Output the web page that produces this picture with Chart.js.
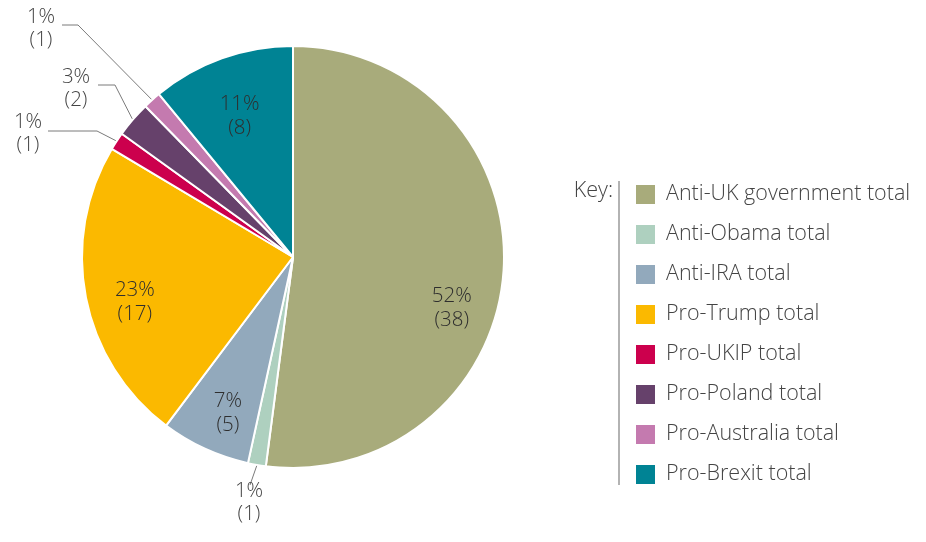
<!DOCTYPE html>
<html lang="en">
    <head>
        <meta charset="UTF-8">
        <title>Key totals</title>
        <style>
            html, body { margin: 0; padding: 0; background: #ffffff; }
            #wrap { width: 926px; height: 542px; }
        </style>
    </head>
    <body>
        <div id="wrap">
            <canvas id="pieCanvas" width="926" height="542"></canvas>
        </div>

        <script src="https://cdn.jsdelivr.net/npm/chart.js"></script>
        <script>
            // data
            const categories = [
                'Anti-UK government total',
                'Anti-Obama total',
                'Anti-IRA total',
                'Pro-Trump total',
                'Pro-UKIP total',
                'Pro-Poland total',
                'Pro-Australia total',
                'Pro-Brexit total'
            ];
            const counts = [38, 1, 5, 17, 1, 2, 1, 8];
            const percentLabels = ['52%', '1%', '7%', '23%', '1%', '3%', '1%', '11%'];
            const sliceColors = ['#a8ab7b', '#aed0bf', '#92a9bc', '#fbb900', '#cc004d', '#66416b', '#c47aaf', '#008394'];

            const FONT = '"Open Sans", "Noto Sans", sans-serif';
            const LINE_H = 24;

            // inside labels: tweak of angle (deg) and radius fraction
            const insideLabels = {
                0: { da: 14, rf: 0.79 },
                2: { da: -2, rf: 0.80 },
                3: { da: -5, rf: 0.78 },
                7: { da: -1, rf: 0.715 }
            };

            // outside labels with leader lines, offsets from pie centre
            const calloutLabels = {
                1: { elbow: null, end: [-43, 228], text: [-44, 245] },
                4: { elbow: [-196, -126], end: [-245, -126], text: [-265, -124] },
                5: { elbow: [-178, -172], end: [-195, -172], text: [-217, -169] },
                6: { elbow: [-215, -232], end: [-231, -232], text: [-252, -229] }
            };

            const sliceLabelPlugin = {
                id: 'sliceLabels',
                afterDatasetsDraw(chart) {
                    const ctx = chart.ctx;
                    const arcs = chart.getDatasetMeta(0).data;
                    ctx.save();
                    ctx.font = '300 20.5px ' + FONT;
                    ctx.textAlign = 'center';
                    ctx.textBaseline = 'middle';

                    arcs.forEach((arc, i) => {
                        const cx = arc.x, cy = arc.y, R = arc.outerRadius;
                        const mid = (arc.startAngle + arc.endAngle) / 2;
                        const line2 = '(' + counts[i] + ')';

                        if (insideLabels[i]) {
                            const a = mid + insideLabels[i].da * Math.PI / 180;
                            const r = R * insideLabels[i].rf;
                            const x = cx + r * Math.cos(a);
                            const y = cy + r * Math.sin(a);
                            ctx.fillStyle = '#2e2e2e';
                            ctx.fillText(percentLabels[i], x, y - LINE_H / 2);
                            ctx.fillText(line2, x, y + LINE_H / 2);
                        } else if (calloutLabels[i]) {
                            const c = calloutLabels[i];
                            const sx = cx + (R + 1) * Math.cos(mid);
                            const sy = cy + (R + 1) * Math.sin(mid);
                            ctx.strokeStyle = '#7a7a7a';
                            ctx.lineWidth = 1;
                            ctx.beginPath();
                            ctx.moveTo(sx, sy);
                            if (c.elbow) ctx.lineTo(cx + c.elbow[0], cy + c.elbow[1]);
                            ctx.lineTo(cx + c.end[0], cy + c.end[1]);
                            ctx.stroke();
                            ctx.fillStyle = '#444444';
                            const tx = cx + c.text[0], ty = cy + c.text[1];
                            ctx.fillText(percentLabels[i], tx, ty - LINE_H / 2 + 1);
                            ctx.fillText(line2, tx, ty + LINE_H / 2);
                        }
                    });
                    ctx.restore();
                }
            };

            const keyPlugin = {
                id: 'keyLegend',
                afterDraw(chart) {
                    const ctx = chart.ctx;
                    const left = 619, top = 194, step = 40;
                    ctx.save();
                    ctx.font = '300 21.5px ' + FONT;
                    ctx.textBaseline = 'middle';
                    ctx.fillStyle = '#444444';
                    ctx.textAlign = 'right';
                    ctx.fillText('Key:', left - 6, top - 3);

                    ctx.strokeStyle = '#9a9a9a';
                    ctx.lineWidth = 1.5;
                    ctx.beginPath();
                    ctx.moveTo(left, 181);
                    ctx.lineTo(left, 485);
                    ctx.stroke();

                    ctx.textAlign = 'left';
                    categories.forEach((name, i) => {
                        const y = top + i * step;
                        ctx.fillStyle = sliceColors[i];
                        ctx.fillRect(left + 17, y - 9, 19, 19);
                        ctx.fillStyle = '#444444';
                        ctx.fillText(name, left + 47, y);
                    });
                    ctx.restore();
                }
            };

            new Chart(document.getElementById('pieCanvas').getContext('2d'), {
                type: 'pie',
                data: {
                    labels: categories,
                    datasets: [{
                        data: counts,
                        backgroundColor: sliceColors,
                        borderColor: '#ffffff',
                        borderWidth: 2
                    }]
                },
                options: {
                    responsive: false,
                    animation: false,
                    radius: 211,
                    layout: {
                        padding: { left: 82, right: 422, top: 46, bottom: 74 }
                    },
                    plugins: {
                        legend: { display: false },
                        tooltip: { enabled: false }
                    }
                },
                plugins: [sliceLabelPlugin, keyPlugin]
            });
        </script>
    </body>
</html>
